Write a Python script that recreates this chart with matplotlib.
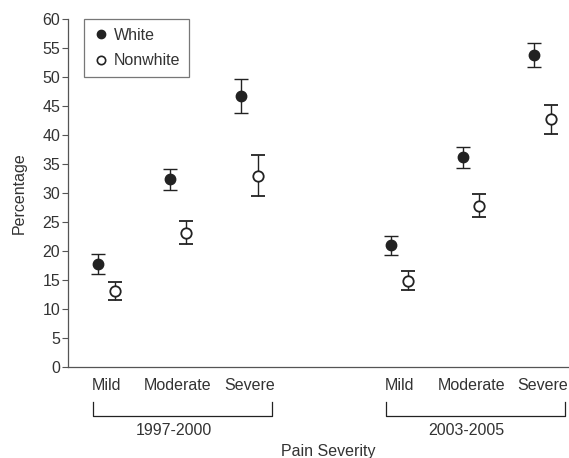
import matplotlib
matplotlib.use("Agg")
import matplotlib.pyplot as plt
import matplotlib.transforms as mtransforms
from matplotlib.lines import Line2D

plt.rcParams["font.family"] = ["Liberation Sans", "DejaVu Sans"]

# data
categories = ["Mild", "Moderate", "Severe", "Mild", "Moderate", "Severe"]
positions = [0.0, 1.0, 2.0, 4.1, 5.1, 6.1]
periods = ["1997-2000", "2003-2005"]

white = [17.8, 32.4, 46.8, 21.0, 36.2, 53.8]
white_lo = [16.0, 30.5, 43.8, 19.3, 34.3, 51.7]
white_hi = [19.5, 34.1, 49.7, 22.5, 38.0, 55.8]

nonwhite = [13.1, 23.1, 33.0, 14.8, 27.8, 42.8]
nonwhite_lo = [11.6, 21.2, 29.5, 13.2, 25.8, 40.1]
nonwhite_hi = [14.7, 25.1, 36.6, 16.5, 29.8, 45.2]

OFFSET = 0.115
INK = "#222222"
TXT = "#333333"
AXC = "#555555"
FS = 11.5

fig = plt.figure(figsize=(5.69, 4.58), dpi=100)
ax = fig.add_axes([0.1195, 0.1987, 0.8805, 0.7598])


def _err(vals, lo, hi):
    return [[v - l for v, l in zip(vals, lo)], [h - v for v, h in zip(vals, hi)]]


xw = [p - OFFSET for p in positions]
xn = [p + OFFSET for p in positions]
ax.errorbar(xw, white, yerr=_err(white, white_lo, white_hi), fmt="o",
            color=INK, mfc=INK, mec=INK, ms=7.5, ecolor=INK, elinewidth=1.0,
            capsize=5, capthick=1.0, clip_on=False)
ax.errorbar(xn, nonwhite, yerr=_err(nonwhite, nonwhite_lo, nonwhite_hi),
            fmt="o", color=INK, mfc="white", mec=INK, mew=1.3, ms=7.5,
            ecolor=INK, elinewidth=1.0, capsize=5, capthick=1.0,
            clip_on=False)

ax.set_ylim(0, 60)
ax.set_yticks(range(0, 61, 5))
ax.set_xlim(-0.54, 6.47)
ax.set_xticks(positions)
ax.set_xticklabels(categories)
ax.tick_params(axis="x", length=0, pad=8, labelsize=FS, labelcolor=TXT)
ax.tick_params(axis="y", direction="out", length=4, width=0.8, color=AXC,
               labelsize=FS, labelcolor=TXT, pad=1.5)
for s in ("top", "right"):
    ax.spines[s].set_visible(False)
for s in ("left", "bottom"):
    ax.spines[s].set_color(AXC)
    ax.spines[s].set_linewidth(0.9)

fig.text(19 / 569, 0.578, "Percentage", rotation=90, ha="center",
         va="center", fontsize=FS, color=TXT)

# period brackets under the category labels
trans = mtransforms.blended_transform_factory(ax.transData, ax.transAxes)
groups = [positions[0:3], positions[3:6]]
for grp, name in zip(groups, periods):
    x0 = grp[0] - 0.19
    x1 = grp[-1] + 0.31
    ax.plot([x0, x0, x1, x1], [-0.100, -0.141, -0.141, -0.100], color=INK,
            lw=0.9, transform=trans, clip_on=False)
    ax.text(grp[1] - 0.06, -0.183, name, ha="center", va="center",
            fontsize=FS, color=TXT, transform=trans)

ax.text(0.519, -0.2425, "Pain Severity", ha="center", va="center",
        fontsize=FS, color=TXT, transform=ax.transAxes)

handles = [
    Line2D([], [], ls="none", marker="o", ms=6, mfc=INK, mec=INK),
    Line2D([], [], ls="none", marker="o", ms=6, mfc="white", mec=INK,
           mew=1.2),
]
leg = ax.legend(handles, ["White", "Nonwhite"], loc="upper left",
                bbox_to_anchor=(0.032, 1.0), fontsize=FS, frameon=True,
                fancybox=False, edgecolor=AXC, handletextpad=0.34,
                handlelength=1.0, borderpad=0.55, labelspacing=0.66,
                borderaxespad=0)
leg.get_frame().set_linewidth(0.9)
for t in leg.get_texts():
    t.set_color(TXT)

fig.savefig("out.png", dpi=100)
